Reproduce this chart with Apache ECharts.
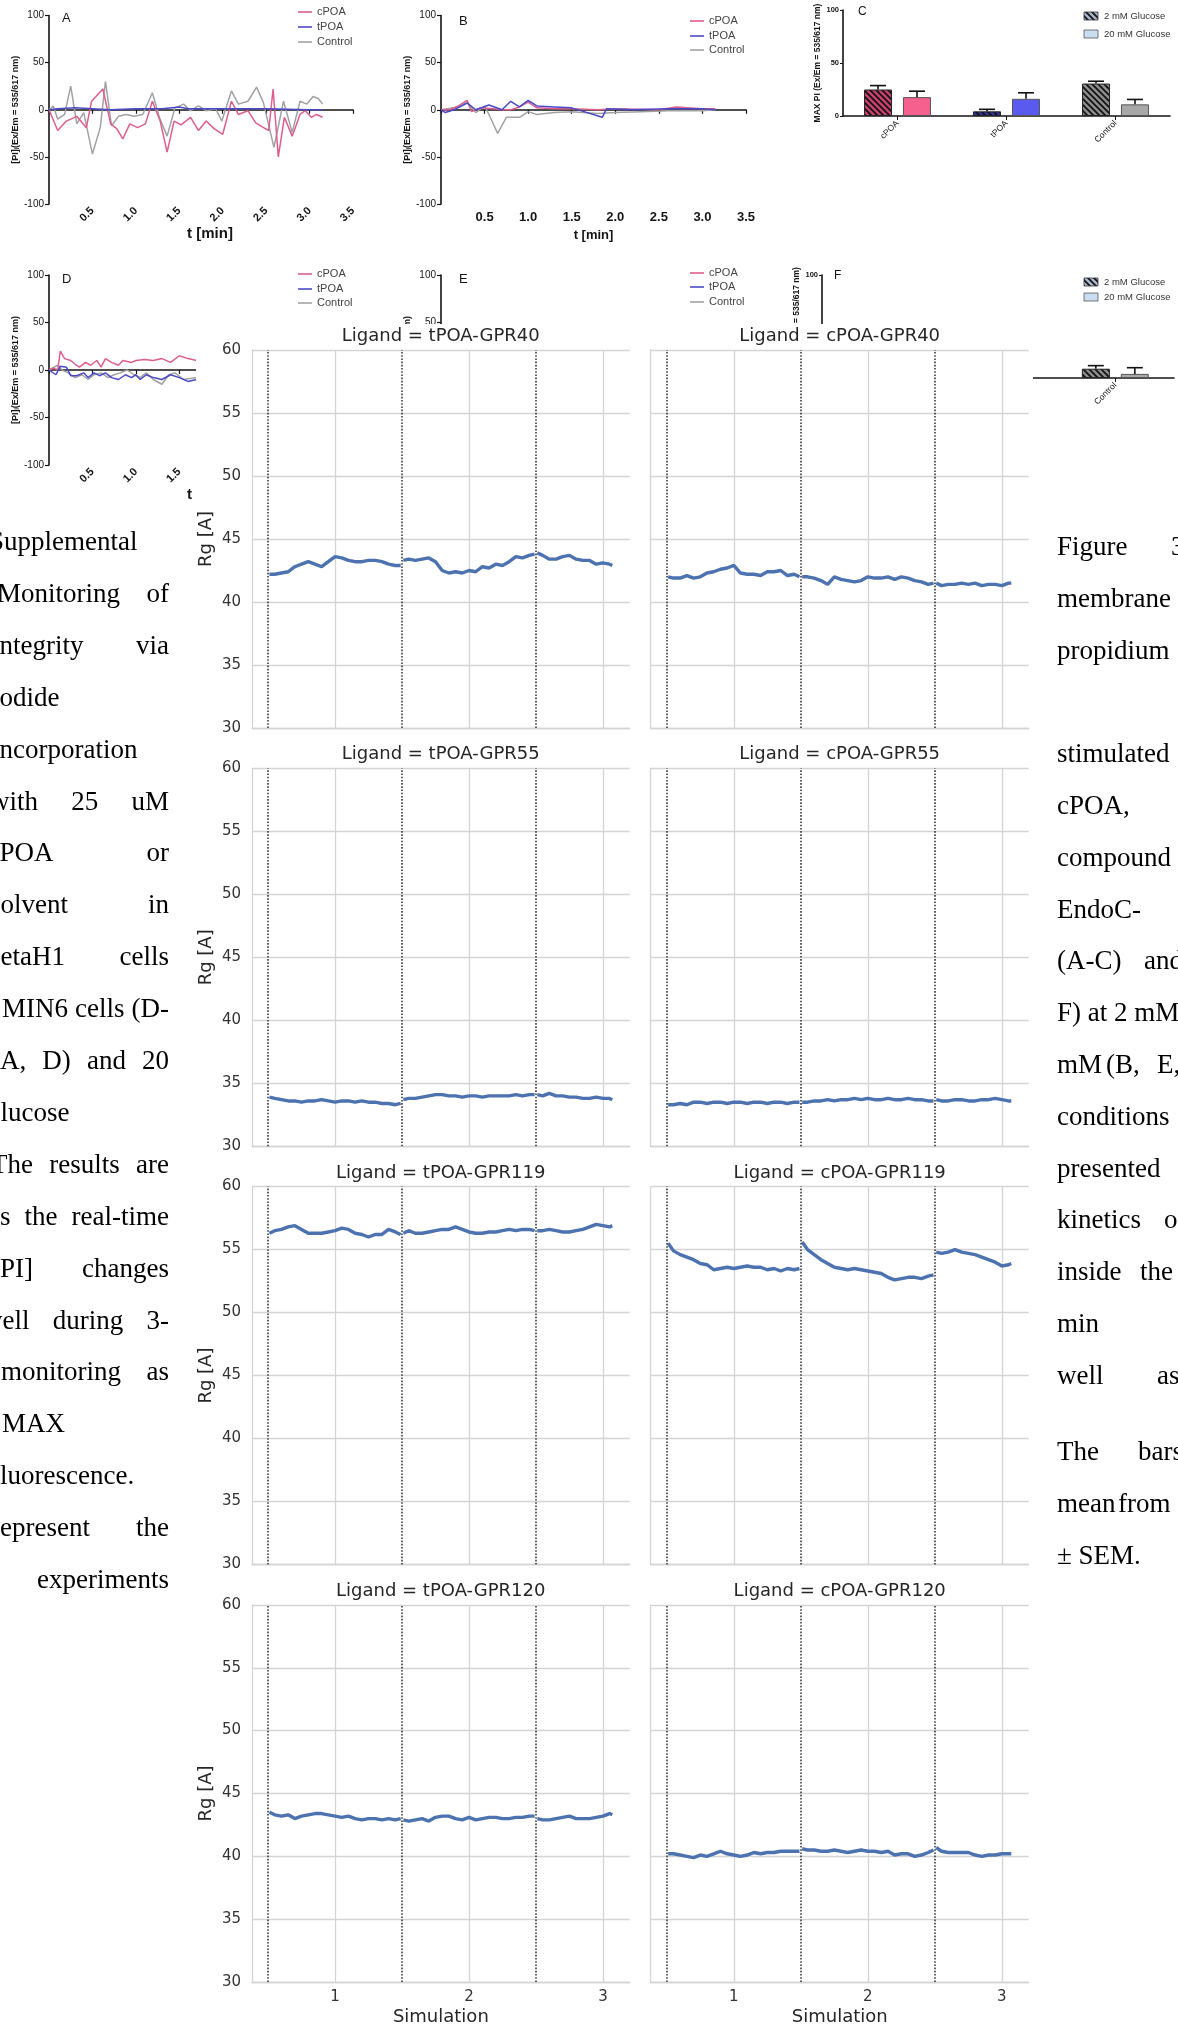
<!DOCTYPE html>
<html><head><meta charset="utf-8">
<script src="https://cdn.jsdelivr.net/npm/echarts@6/dist/echarts.min.js"></script>
<style>
html,body{margin:0;padding:0;background:#fff;overflow:hidden;width:1178px;height:2027px}
#bg{position:absolute;left:0;top:0;width:1178px;height:2027px}
#fg{position:absolute;left:196px;top:324px;width:837px;height:1703px;background:#fff}
</style></head><body>
<div id="bg"></div><div id="fg"></div>
<script>
// ===================== DATA: facet chart (Rg per simulation) =====================
const LIGANDS = ['tPOA-GPR40','cPOA-GPR40','tPOA-GPR55','cPOA-GPR55','tPOA-GPR119','cPOA-GPR119','tPOA-GPR120','cPOA-GPR120'];
const SIM_BOUNDS = [0.5, 1.5, 2.5];
const X_TICKS = [1, 2, 3];
const Y_TICKS = [30, 35, 40, 45, 50, 55, 60];
const SIM1_X = [0.51,0.55,0.6,0.65,0.7,0.75,0.8,0.85,0.9,0.95,1.0,1.05,1.1,1.15,1.2,1.25,1.3,1.35,1.4,1.45,1.49];
const SIM2_X = [1.51,1.55,1.6,1.65,1.7,1.75,1.8,1.85,1.9,1.95,2.0,2.05,2.1,2.15,2.2,2.25,2.3,2.35,2.4,2.45,2.49];
const SIM3_X = [2.51,2.55,2.6,2.65,2.7,2.75,2.8,2.85,2.9,2.95,3.0,3.05,3.07];

const RG_tPOA_GPR40 = [
  [42.2,42.2,42.3,42.4,42.8,43.0,43.2,43.0,42.8,43.2,43.6,43.5,43.3,43.2,43.2,43.3,43.3,43.2,43.0,42.9,42.9],
  [43.3,43.4,43.3,43.4,43.5,43.2,42.5,42.3,42.4,42.3,42.5,42.4,42.8,42.7,43.0,42.9,43.2,43.6,43.5,43.7,43.8],
  [43.9,43.7,43.4,43.4,43.6,43.7,43.4,43.3,43.3,43.0,43.1,43.0,42.9]];
const RG_cPOA_GPR40 = [
  [42.0,41.9,41.9,42.1,41.9,42.0,42.3,42.4,42.6,42.7,42.9,42.3,42.2,42.2,42.1,42.4,42.4,42.5,42.1,42.2,42.0],
  [42.0,42.0,41.9,41.7,41.4,42.0,41.8,41.7,41.6,41.7,42.0,41.9,41.9,42.0,41.8,42.0,41.9,41.7,41.6,41.4,41.5],
  [41.5,41.3,41.4,41.4,41.5,41.4,41.5,41.3,41.4,41.4,41.3,41.5,41.5]];
const RG_tPOA_GPR55 = [
  [33.9,33.8,33.7,33.6,33.6,33.5,33.6,33.6,33.7,33.6,33.5,33.6,33.6,33.5,33.6,33.5,33.5,33.4,33.4,33.3,33.4],
  [33.7,33.8,33.8,33.9,34.0,34.1,34.1,34.0,34.0,33.9,34.0,34.0,33.9,34.0,34.0,34.0,34.0,34.1,34.0,34.1,34.1],
  [34.1,34.0,34.2,34.0,34.0,33.9,33.9,33.8,33.8,33.9,33.8,33.8,33.7]];
const RG_cPOA_GPR55 = [
  [33.3,33.3,33.4,33.3,33.5,33.5,33.4,33.5,33.5,33.4,33.5,33.5,33.4,33.5,33.5,33.4,33.5,33.5,33.4,33.5,33.5],
  [33.5,33.5,33.6,33.6,33.7,33.6,33.7,33.7,33.8,33.7,33.8,33.7,33.7,33.8,33.7,33.7,33.8,33.7,33.7,33.6,33.6],
  [33.7,33.6,33.6,33.7,33.7,33.6,33.6,33.7,33.7,33.8,33.7,33.6,33.6]];
const RG_tPOA_GPR119 = [
  [56.3,56.5,56.6,56.8,56.9,56.6,56.3,56.3,56.3,56.4,56.5,56.7,56.6,56.3,56.2,56.0,56.2,56.2,56.6,56.4,56.2],
  [56.3,56.5,56.3,56.3,56.4,56.5,56.6,56.6,56.8,56.6,56.4,56.3,56.3,56.4,56.4,56.5,56.6,56.5,56.6,56.6,56.5],
  [56.5,56.5,56.6,56.5,56.4,56.4,56.5,56.6,56.8,57.0,56.9,56.8,56.9]];
const RG_cPOA_GPR119 = [
  [55.5,54.9,54.6,54.4,54.2,53.9,53.8,53.4,53.5,53.6,53.5,53.6,53.7,53.6,53.6,53.4,53.5,53.3,53.5,53.4,53.5],
  [55.6,55.0,54.6,54.2,53.9,53.6,53.5,53.4,53.5,53.4,53.3,53.2,53.1,52.8,52.6,52.7,52.8,52.8,52.7,52.9,53.0],
  [54.8,54.7,54.8,55.0,54.8,54.7,54.6,54.4,54.2,54.0,53.7,53.8,53.9]];
const RG_tPOA_GPR120 = [
  [43.5,43.3,43.2,43.3,43.0,43.2,43.3,43.4,43.4,43.3,43.2,43.1,43.2,43.0,42.9,43.0,43.0,42.9,43.0,42.9,43.0],
  [42.9,42.8,42.9,43.0,42.8,43.1,43.2,43.2,43.0,42.9,43.1,42.9,43.0,43.1,43.1,43.0,43.0,43.1,43.1,43.2,43.2],
  [43.0,42.9,42.9,43.0,43.1,43.2,43.0,43.0,43.0,43.1,43.2,43.4,43.3]];
const RG_cPOA_GPR120 = [
  [40.2,40.2,40.1,40.0,39.9,40.1,40.0,40.2,40.4,40.2,40.1,40.0,40.1,40.3,40.2,40.3,40.3,40.4,40.4,40.4,40.4],
  [40.6,40.5,40.5,40.4,40.4,40.5,40.4,40.3,40.4,40.5,40.4,40.4,40.3,40.4,40.1,40.2,40.2,40.0,40.1,40.3,40.5],
  [40.7,40.4,40.3,40.3,40.3,40.3,40.1,40.0,40.1,40.1,40.2,40.2,40.2]];

// ===================== DATA: background figure =====================
const A_CPOA = [[0,0],[0.1,-22],[0.2,-12],[0.32,-7],[0.43,-19],[0.49,9],[0.62,22],[0.71,-15],[0.78,-20],[0.85,-31],[0.93,-15],[1.02,-19],[1.11,-15],[1.19,9],[1.28,-12],[1.36,-45],[1.44,-12],[1.52,-16],[1.63,-8],[1.72,-22],[1.81,-12],[1.9,-20],[2.0,-26],[2.1,9],[2.18,-5],[2.29,-1],[2.38,-14],[2.47,-19],[2.53,-22],[2.58,22],[2.64,-50],[2.71,-8],[2.8,-28],[2.89,-5],[2.95,-1],[3.02,-8],[3.08,-5],[3.15,-8]];
const A_CTRL = [[0,0],[0.05,4],[0.1,-10],[0.18,-5],[0.25,25],[0.32,-15],[0.4,-3],[0.5,-47],[0.59,-19],[0.65,30],[0.72,-17],[0.8,-7],[0.89,-5],[0.98,-7],[1.08,-5],[1.19,18],[1.27,-8],[1.36,-28],[1.45,2],[1.55,6],[1.63,-1],[1.72,4],[1.81,-1],[1.92,1],[1.99,-12],[2.1,20],[2.18,6],[2.29,9],[2.39,24],[2.47,7],[2.59,-40],[2.7,9],[2.8,-24],[2.89,9],[2.97,6],[3.04,14],[3.1,12],[3.15,6]];
const A_TPOA = [[0,0],[0.1,1],[0.3,2],[0.5,1],[0.7,0],[1.0,1],[1.3,1],[1.5,3],[1.6,1],[2.0,1],[2.5,1],[3.0,0],[3.15,0]];
const B_CPOA = [[0,0],[0.1,0],[0.2,4],[0.3,10],[0.35,-2],[0.45,2],[0.6,1],[0.7,0],[0.8,0],[0.9,3],[1.0,8],[1.1,2],[1.3,1],[1.5,1],[1.8,0],[2.0,1],[2.5,0],[2.7,3],[3.0,1],[3.15,1]];
const B_TPOA = [[0,0],[0.05,-3],[0.15,0],[0.3,7],[0.4,0],[0.55,5],[0.7,0],[0.8,9],[0.9,3],[1.0,10],[1.1,4],[1.3,3],[1.5,2],[1.85,-8],[1.9,1],[2.2,0],[2.6,1],[3.0,1],[3.15,0]];
const B_CTRL = [[0,0],[0.2,3],[0.3,8],[0.4,-3],[0.5,4],[0.55,-5],[0.65,-25],[0.75,-8],[0.9,-8],[1.0,-2],[1.1,-5],[1.3,-3],[1.5,-2],[1.8,-4],[2.0,-3],[2.3,-2],[2.6,-1],[3.0,-1],[3.15,0]];
const D_CPOA = [[0,0],[0.05,2],[0.1,0],[0.13,20],[0.18,12],[0.25,10],[0.3,6],[0.35,3],[0.42,8],[0.48,5],[0.55,10],[0.6,3],[0.65,12],[0.72,8],[0.8,5],[0.85,10],[0.95,8],[1.0,10],[1.1,11],[1.2,10],[1.3,12],[1.4,8],[1.5,15],[1.6,12],[1.7,10],[1.8,14],[1.9,12],[2.0,10]];
const D_TPOA = [[0,0],[0.08,-5],[0.13,4],[0.2,3],[0.25,-6],[0.32,-6],[0.4,-3],[0.45,-8],[0.52,-3],[0.58,-6],[0.65,-3],[0.72,-8],[0.8,-10],[0.88,-5],[0.95,-8],[1.0,-5],[1.05,-10],[1.12,-5],[1.2,-8],[1.3,-10],[1.4,-5],[1.5,-8],[1.6,-12],[1.7,-10],[1.8,-12],[2.0,-10]];
const D_CTRL = [[0,0],[0.1,5],[0.15,0],[0.22,-3],[0.3,-8],[0.38,-5],[0.45,-10],[0.52,-5],[0.6,-3],[0.68,-8],[0.75,-5],[0.82,-3],[0.9,0],[0.98,-5],[1.05,-8],[1.12,-3],[1.2,-10],[1.3,-15],[1.38,-5],[1.45,-3],[1.55,-10],[1.7,-8],[2.0,-6]];
const BAR_CATS = ['cPOA','tPOA','Control'];
const C_2MM = [25, 4.4, 30.6];
const C_2MM_ERR = [3.7, 1.9, 2.2];
const C_20MM = [17.8, 16.2, 11];
const C_20MM_ERR = [5.6, 5.7, 4.6];
const F_2MM = [6, 3, 9];
const F_2MM_ERR = [2, 2, 3];
const F_20MM = [5, 1.5, 4];
const F_20MM_ERR = [3, 1, 6];

const LEFT_TEXT = [
 ['Supplemental', -11, 'left'], ['Monitoring of', -3, 'just'], ['integrity via', -8, 'just'],
 ['iodide', -8, 'left'], ['incorporation', -8, 'left'], ['with 25 uM', -10, 'just'],
 ['tPOA or', -8, 'just'], ['solvent in', -10, 'just'], ['betaH1 cells', -13, 'just'],
 ['MIN6 cells (D-', 2, 'just'], ['(A, D) and 20', -9, 'just'], ['glucose', -13, 'left'],
 ['The results are', -9, 'just'], ['as the real-time', -12, 'just'], ['[PI] changes', -9, 'just'],
 ['well during 3-', -17, 'just'], ['monitoring as', 1, 'just'], ['MAX', 2, 'left'],
 ['fluorescence.', -9, 'left'], ['represent the', -9, 'just'], ['experiments', 0, 'right']
];
const RIGHT_TEXT = [
 [0, [['Figure',1057],['3',1171]]], [1, [['membrane',1057]]], [2, [['propidium',1057]]],
 [4, [['stimulated',1057]]], [5, [['cPOA,',1057]]], [6, [['compound',1057]]], [7, [['EndoC-',1057]]],
 [8, [['(A-C)',1057],['and',1144]]], [9, [['F) at 2 mM',1057]]], [10, [['mM',1057],['(B,',1106],['E,',1157]]],
 [11, [['conditions',1057]]], [12, [['presented',1057]]], [13, [['kinetics',1057],['of',1164]]],
 [14, [['inside',1057],['the',1140]]], [15, [['min',1057]]], [16, [['well',1057],['as',1157]]],
 [17.47, [['The',1057],['bars',1138]]], [18.47, [['mean',1057],['from',1118]]], [19.47, [['\u00b1 SEM.',1057]]]
];

// ===================== FACET CHART =====================
const FONT = '"DejaVu Sans", sans-serif';
const GRID_W = 378;
const COL_LEFT = [55.7, 454.7];
const ROW_TOP = [26, 444.3, 862.6, 1280.9];
const PANELS = [RG_tPOA_GPR40, RG_cPOA_GPR40, RG_tPOA_GPR55, RG_cPOA_GPR55, RG_tPOA_GPR119, RG_cPOA_GPR119, RG_tPOA_GPR120, RG_cPOA_GPR120];
const SEG_X = [SIM1_X, SIM2_X, SIM3_X];
const GRIDC = '#d4d4d4';

const fgOpt = {animation:false, backgroundColor:'#fff', textStyle:{fontFamily:FONT},
  grid:[], xAxis:[], yAxis:[], series:[], graphic:[]};
LIGANDS.forEach((name, i) => {
  const r = Math.floor(i / 2), c = i % 2;
  const left = COL_LEFT[c], top = ROW_TOP[r];
  fgOpt.grid.push({left, top, width:GRID_W, height:GRID_W});
  fgOpt.xAxis.push({gridIndex:i, type:'value', min:0.38, max:3.2, splitNumber:3, minInterval:1, maxInterval:1,
    axisLine:{show:true, onZero:false, lineStyle:{color:GRIDC, width:1.3}}, axisTick:{show:false},
    axisLabel:{show:r === 3, showMinLabel:false, showMaxLabel:false, fontSize:15, color:'#333', margin:8, fontFamily:FONT,
      formatter:v => X_TICKS.indexOf(v) >= 0 ? String(v) : ''},
    splitLine:{show:true, showMinLine:false, showMaxLine:false, lineStyle:{color:GRIDC, width:1.3}},
    name:r === 3 ? 'Simulation' : '', nameLocation:'middle', nameGap:26,
    nameTextStyle:{fontSize:18, color:'#262626', fontFamily:FONT}});
  fgOpt.yAxis.push({gridIndex:i, type:'value', min:Y_TICKS[0], max:Y_TICKS[Y_TICKS.length-1], interval:5,
    axisLine:{show:true, lineStyle:{color:GRIDC, width:1.3}}, axisTick:{show:false},
    axisLabel:{show:c === 0, fontSize:15, color:'#333', margin:11, fontFamily:FONT},
    splitLine:{show:true, lineStyle:{color:GRIDC, width:1.3}},
    name:c === 0 ? 'Rg [A]' : '', nameLocation:'middle', nameGap:37,
    nameTextStyle:{fontSize:18, color:'#262626', fontFamily:FONT}});
  PANELS[i].forEach((vals, k) => {
    const s = {type:'line', xAxisIndex:i, yAxisIndex:i, data:SEG_X[k].map((x, j) => [x, vals[j]]),
      symbol:'none', showSymbol:false, silent:true, z:3,
      lineStyle:{color:'#4c72b0', width:3.4}, itemStyle:{color:'#4c72b0'}};
    if (k === 0) {
      s.markLine = {silent:true, symbol:['none','none'], label:{show:false},
        lineStyle:{color:'#3a3a3a', type:'dotted', width:1.6},
        data:SIM_BOUNDS.map(b => ({xAxis:b}))};
    }
    fgOpt.series.push(s);
  });
  fgOpt.graphic.push({type:'text', x:left + GRID_W / 2, y:top - 13.5, z:10, silent:true,
    style:{text:'Ligand = ' + name, font:'18px ' + FONT, fill:'#262626',
      align:'center', verticalAlign:'middle', textAlign:'center', textVerticalAlign:'middle'}});
});

// ===================== BACKGROUND FIGURE =====================
const SANS = '"Liberation Sans", Arial, sans-serif';
const SERIF = '"Liberation Serif", "Times New Roman", serif';
const INK = '#151515';
const COL_CPOA = '#dc5e8e', COL_TPOA = '#4a4ac8', COL_CTRL = '#a2a2a2';

function hatch(base) {
  const cv = document.createElement('canvas'); cv.width = 6; cv.height = 6;
  const g = cv.getContext('2d'); g.fillStyle = base; g.fillRect(0, 0, 6, 6);
  g.strokeStyle = '#111'; g.lineWidth = 1.7; g.beginPath();
  g.moveTo(-1, -1); g.lineTo(7, 7); g.moveTo(-4, 2); g.lineTo(4, 10); g.moveTo(2, -4); g.lineTo(10, 4);
  g.stroke();
  return {image:cv, repeat:'repeat'};
}

const bgGrids = [
  {left:49, top:15.5, width:304, height:188.5},
  {left:441, top:15.5, width:305, height:188.5},
  {left:843, top:10, width:327, height:106},
  {left:49, top:275, width:304, height:190},
  {left:441, top:275, width:305, height:190},
  {left:822, top:275, width:352, height:103}
];
const bgX = [], bgY = [], bgSeries = [];
function timeAxes(gi, rotated) {
  bgX.push({gridIndex:gi, type:'value', min:0, max:3.5, interval:0.5,
    axisLine:{show:true, onZero:true, lineStyle:{color:INK, width:1.6}},
    axisTick:{show:true, length:4, lineStyle:{color:INK, width:1.2}},
    axisLabel:{rotate:rotated ? 45 : 0, fontSize:rotated ? 11 : 13, fontWeight:'bold', color:INK,
      margin:rotated ? 5 : 7, fontFamily:SANS, formatter:v => v === 0 ? '' : v.toFixed(1)},
    splitLine:{show:false}, name:'t [min]', nameLocation:'middle', nameGap:rotated ? 21 : 25,
    nameTextStyle:{fontSize:rotated ? 15 : 13, fontWeight:'bold', color:INK, fontFamily:SANS,
      padding:rotated ? [0, 0, 0, 18] : 0}});
  bgY.push({gridIndex:gi, type:'value', min:-100, max:100, interval:50,
    axisLine:{show:true, lineStyle:{color:INK, width:1.6}},
    axisTick:{show:true, length:4, lineStyle:{color:INK, width:1.2}},
    axisLabel:{fontSize:10, color:INK, margin:5, fontFamily:SANS}, splitLine:{show:false},
    name:'[PI]\u1d62(Ex/Em = 535/617 nm)', nameLocation:'middle', nameGap:29,
    nameTextStyle:{fontSize:9, fontWeight:'bold', color:INK, fontFamily:SANS}});
}
function barAxes(gi) {
  bgX.push({gridIndex:gi, type:'category', data:BAR_CATS, boundaryGap:true,
    axisLine:{show:true, lineStyle:{color:INK, width:1.6}},
    axisTick:{show:true, alignWithLabel:true, length:4, lineStyle:{color:INK}},
    axisLabel:{rotate:45, fontSize:8.5, color:INK, margin:6, fontFamily:SANS}});
  bgY.push({gridIndex:gi, type:'value', min:0, max:100, interval:50,
    axisLine:{show:true, lineStyle:{color:INK, width:1.6}},
    axisTick:{show:true, length:3, lineStyle:{color:INK}},
    axisLabel:{fontSize:7.5, fontWeight:'bold', color:INK, margin:4, fontFamily:SANS}, splitLine:{show:false},
    name:'MAX PI (Ex/Em = 535/617 nm)', nameLocation:'middle', nameGap:17,
    nameTextStyle:{fontSize:8.5, fontWeight:'bold', color:INK, fontFamily:SANS}});
}
function lineS(gi, data, color) {
  bgSeries.push({type:'line', xAxisIndex:gi, yAxisIndex:gi, data, symbol:'none', silent:true,
    lineStyle:{color, width:1.5}, itemStyle:{color}, z:2});
}
const HATCH_COL = ['#c8406e', '#34349e', '#8c8c8c'];
const SOLID_COL = ['#f5608e', '#5a5af0', '#a8a8a8'];
function barS(gi, v2, e2, v20, e20) {
  bgSeries.push({type:'bar', xAxisIndex:gi, yAxisIndex:gi, barWidth:28, barGap:'39%', silent:true,
    data:v2.map((v, i) => ({value:v, itemStyle:{color:hatch(HATCH_COL[i]), borderColor:'#222', borderWidth:1}}))});
  bgSeries.push({type:'bar', xAxisIndex:gi, yAxisIndex:gi, barWidth:28, barGap:'39%', silent:true,
    data:v20.map((v, i) => ({value:v, itemStyle:{color:SOLID_COL[i], borderColor:'#555', borderWidth:1}}))});
  [[v2, e2, -19.5], [v20, e20, 19.5]].forEach(([vals, errs, off]) => {
    bgSeries.push({type:'custom', xAxisIndex:gi, yAxisIndex:gi, silent:true, z:4, encode:{x:0, y:1},
      data:vals.map((v, i) => [i, v, errs[i]]),
      renderItem:(params, api) => {
        const i = api.value(0), v = api.value(1), e = api.value(2);
        const p0 = api.coord([i, v]), p1 = api.coord([i, v + e]);
        const x = p0[0] + off;
        return {type:'group', children:[
          {type:'line', shape:{x1:x, y1:p0[1], x2:x, y2:p1[1]}, style:{stroke:'#111', lineWidth:1.6}},
          {type:'line', shape:{x1:x - 8, y1:p1[1], x2:x + 8, y2:p1[1]}, style:{stroke:'#111', lineWidth:1.6}}]};
      }});
  });
}
timeAxes(0, true); timeAxes(1, false); barAxes(2); timeAxes(3, true); timeAxes(4, false); barAxes(5);
lineS(0, A_CTRL, COL_CTRL); lineS(0, A_CPOA, COL_CPOA); lineS(0, A_TPOA, COL_TPOA);
lineS(1, B_CTRL, COL_CTRL); lineS(1, B_CPOA, COL_CPOA); lineS(1, B_TPOA, COL_TPOA);
lineS(3, D_CTRL, COL_CTRL); lineS(3, D_CPOA, COL_CPOA); lineS(3, D_TPOA, COL_TPOA);
barS(2, C_2MM, C_2MM_ERR, C_20MM, C_20MM_ERR);
barS(5, F_2MM, F_2MM_ERR, F_20MM, F_20MM_ERR);

const bgGraphic = [];
function txt(x, y, text, font, fill, align) {
  bgGraphic.push({type:'text', x, y, silent:true, z:10,
    style:{text, font, fill:fill || INK, align:align || 'left', verticalAlign:'middle',
      textAlign:align || 'left', textVerticalAlign:'middle'}});
}
function legendLines(x, ys) {
  [['cPOA', COL_CPOA], ['tPOA', COL_TPOA], ['Control', COL_CTRL]].forEach(([t, col], k) => {
    bgGraphic.push({type:'line', silent:true, shape:{x1:x, y1:ys[k], x2:x + 14, y2:ys[k]}, style:{stroke:col, lineWidth:1.6}});
    txt(x + 19, ys[k], t, '11px ' + SANS, '#444');
  });
}
function legendBars(x, y1, y2) {
  bgGraphic.push({type:'rect', silent:true, shape:{x, y:y1 - 4, width:14, height:8}, style:{fill:hatch('#aab6d0'), stroke:'#333', lineWidth:0.8}});
  txt(x + 20, y1, '2 mM Glucose', '9.5px ' + SANS, '#333');
  bgGraphic.push({type:'rect', silent:true, shape:{x, y:y2 - 4, width:14, height:8}, style:{fill:'#c9dcf0', stroke:'#555', lineWidth:0.8}});
  txt(x + 20, y2, '20 mM Glucose', '9.5px ' + SANS, '#333');
}
legendLines(298, [12, 27, 42]);
legendLines(690, [21, 36, 50]);
legendLines(298, [274, 289, 303]);
legendLines(690, [273, 287, 302]);
legendBars(1084, 16, 34);
legendBars(1084, 282, 297);
txt(62, 18, 'A', '13px ' + SANS); txt(459, 21, 'B', '13px ' + SANS); txt(858, 12, 'C', '12px ' + SANS);
txt(62, 279, 'D', '13px ' + SANS); txt(459, 279, 'E', '13px ' + SANS); txt(834, 276, 'F', '12px ' + SANS);

// page text
const TFONT = '27px ' + SERIF;
const mctx = document.createElement('canvas').getContext('2d');
mctx.font = TFONT;
const LEFT_R = 169;
LEFT_TEXT.forEach(([line, x0, mode], i) => {
  const y = 543 + i * 51.9;
  if (mode === 'left') { txt(x0, y, line, TFONT, '#000'); return; }
  if (mode === 'right') { txt(LEFT_R, y, line, TFONT, '#000', 'right'); return; }
  const words = line.split(' ');
  const widths = words.map(w => mctx.measureText(w).width);
  const total = widths.reduce((a, b) => a + b, 0);
  const gap = (LEFT_R - x0 - total) / (words.length - 1);
  let x = x0;
  words.forEach((w, k) => { txt(x, y, w, TFONT, '#000'); x += widths[k] + gap; });
});
RIGHT_TEXT.forEach(([k, words]) => {
  const y = 548 + k * 51.8;
  words.forEach(([w, x]) => txt(x, y, w, TFONT, '#000'));
});

const bgOpt = {animation:false, backgroundColor:'#fff', textStyle:{fontFamily:SANS},
  grid:bgGrids, xAxis:bgX, yAxis:bgY, series:bgSeries, graphic:bgGraphic};

const bgChart = echarts.init(document.getElementById('bg'), null, {renderer:'canvas'});
bgChart.setOption(bgOpt);
const fgChart = echarts.init(document.getElementById('fg'), null, {renderer:'canvas'});
fgChart.setOption(fgOpt);
</script>
</body></html>
